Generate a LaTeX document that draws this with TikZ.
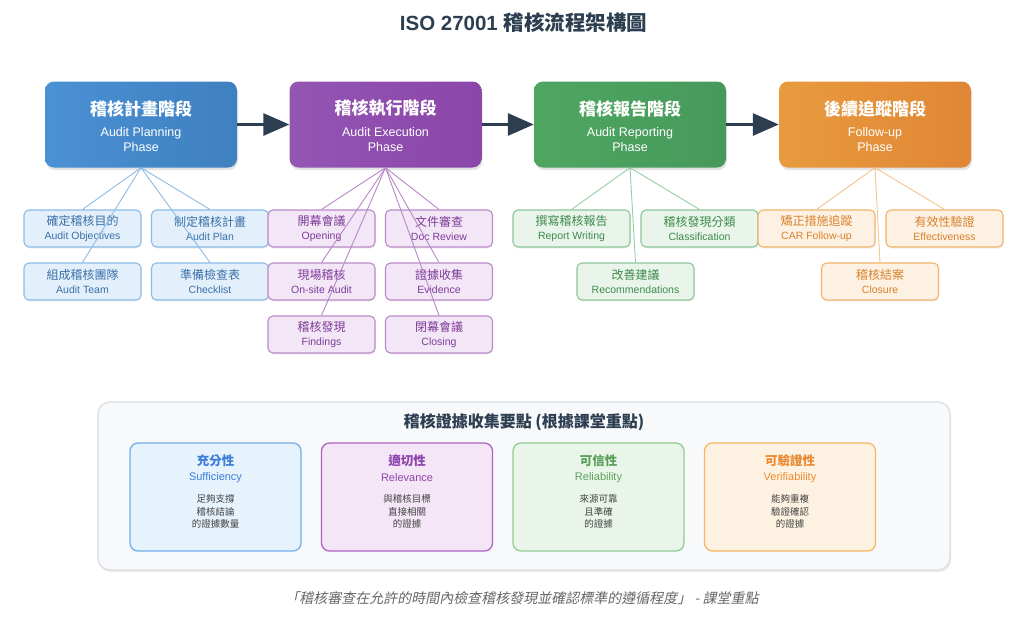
\documentclass[tikz,border=0pt]{standalone}
\usepackage{fontspec}
\setmainfont{Liberation Sans}
\newfontfamily\cjk{Noto Sans CJK TC}
\newfontfamily\cjkit{Noto Sans CJK TC}[FakeSlant=0.2]
\usetikzlibrary{arrows.meta,shadows}

\definecolor{titlec}{HTML}{2C3E50}
\definecolor{arrowc}{HTML}{2C3E50}
% phase colours
\definecolor{pbA}{HTML}{4A91D4}\definecolor{pbB}{HTML}{3F80C0}
\definecolor{ppA}{HTML}{9455B3}\definecolor{ppB}{HTML}{8A46A8}
\definecolor{pgA}{HTML}{4EA661}\definecolor{pgB}{HTML}{47995B}
\definecolor{poA}{HTML}{E89B3E}\definecolor{poB}{HTML}{E08636}
% sub box colours
\definecolor{sbF}{HTML}{E3F0FB}\definecolor{sbD}{HTML}{8BBBE8}\definecolor{sbT}{HTML}{3A6FA8}
\definecolor{spF}{HTML}{F3E6F6}\definecolor{spD}{HTML}{BB8AC8}\definecolor{spT}{HTML}{7D3C98}
\definecolor{sgF}{HTML}{E9F5EB}\definecolor{sgD}{HTML}{8CC699}\definecolor{sgT}{HTML}{3D8A4A}
\definecolor{soF}{HTML}{FDF1E3}\definecolor{soD}{HTML}{F2B46A}\definecolor{soT}{HTML}{D9822B}
% connector colours
\definecolor{lb}{HTML}{8DBBE6}\definecolor{lp}{HTML}{B888C6}
\definecolor{lg}{HTML}{98CFA2}\definecolor{lo}{HTML}{F4C488}
% cards
\definecolor{cbF}{HTML}{E6F2FC}\definecolor{cbD}{HTML}{70AEEE}\definecolor{cbT}{HTML}{3B7DD8}
\definecolor{cpF}{HTML}{F4E6F6}\definecolor{cpD}{HTML}{AE62C2}\definecolor{cpT}{HTML}{8E44AD}
\definecolor{cgF}{HTML}{EAF5EA}\definecolor{cgD}{HTML}{92CC92}\definecolor{cgT}{HTML}{5AA05A}
\definecolor{coF}{HTML}{FDF2E1}\definecolor{coD}{HTML}{F7B565}\definecolor{coT}{HTML}{EA8A30}
\definecolor{descc}{HTML}{444444}
\definecolor{panelF}{HTML}{F8F9FB}\definecolor{panelD}{HTML}{DADEE3}
\definecolor{quotec}{HTML}{666666}

\tikzset{
  phase/.style={rounded corners=9pt, minimum width=192pt, minimum height=86pt,
    inner sep=0pt, draw=none,
    drop shadow={opacity=0.22, shadow xshift=1pt, shadow yshift=-2.5pt}},
  phtitle/.style={text=white, font=\cjk\bfseries\fontsize{17}{20}\selectfont, inner sep=0pt},
  phsub/.style={text=white, font=\fontsize{12.5}{15.5}\selectfont, align=center, inner sep=0pt},
  subbox/.style={rounded corners=5pt, minimum width=117pt, minimum height=37pt,
    inner sep=0pt, line width=1.1pt, align=center,
    font=\fontsize{10.5}{14}\selectfont,
    drop shadow={opacity=0.12, shadow xshift=0.6pt, shadow yshift=-1.5pt}},
  narrow/.style={minimum width=107pt},
  conn/.style={line width=0.9pt},
  flow/.style={line width=3pt, draw=arrowc, -{Triangle[length=26pt,width=22pt]}},
  card/.style={rounded corners=8pt, minimum width=171pt, minimum height=108pt,
    inner sep=0pt, line width=1.3pt},
  cardtitle/.style={font=\cjk\bfseries\fontsize{12.5}{15}\selectfont, inner sep=0pt},
  carden/.style={font=\fontsize{11}{13}\selectfont, inner sep=0pt},
  carddesc/.style={font=\cjk\fontsize{9.5}{12.3}\selectfont, text=descc, align=center, inner sep=0pt},
}

\newcommand\mkphase[7]{% name, cx, colA, colB, zh, en1, en2
  \node[phase, left color=#3, right color=#4] (#1) at (#2,124.5) {};
  \node[phtitle] (#1t) at (#2,108.5) {#5};
  \node[phsub] (#1e) at (#2,139.5) {#6\\#7};
}
\newcommand\mksub[7][]{% [extra], name, cx, cy, prefix, zh, en
  \node[subbox, fill=#5F, draw=#5D, text=#5T, #1] (#2) at (#3,#4)
    {{\cjk\fontsize{12}{14}\selectfont #6}\\#7};
}
\newcommand\mkcard[6]{% name, cx, prefix, zh, en, desc
  \node[card, fill=#3F, draw=#3D] (#1) at (#2,497) {};
  \node[cardtitle, text=#3T] (#1t) at (#2,461) {#4};
  \node[carden, text=#3T] (#1e) at (#2,477.5) {#5};
  \node[carddesc] (#1d) at (#2,511.5) {#6};
}

\begin{document}
\begin{tikzpicture}[x=1pt,y=-1pt]
\useasboundingbox[fill=white] (0,0) rectangle (1024,622);

% title
\node[text=titlec, inner sep=0pt] (title) at (523.5,23)
  {\fontsize{20.5}{24}\selectfont\bfseries ISO 27001 {\cjk\bfseries 稽核流程架構圖}};

% phases
\mkphase{p1}{141}{pbA}{pbB}{稽核計畫階段}{Audit Planning}{Phase}
\mkphase{p2}{385.5}{ppA}{ppB}{稽核執行階段}{Audit Execution}{Phase}
\mkphase{p3}{630}{pgA}{pgB}{稽核報告階段}{Audit Reporting}{Phase}
\mkphase{p4}{875}{poA}{poB}{後續追蹤階段}{Follow-up}{Phase}

\draw[flow] (p1.east) -- (p2.west);
\draw[flow] (p2.east) -- (p3.west);
\draw[flow] (p3.east) -- (p4.west);

% planning sub boxes
\mksub{a1}{82.5}{228.5}{sb}{確定稽核目的}{Audit Objectives}
\mksub{a2}{210}{228.5}{sb}{制定稽核計畫}{Audit Plan}
\mksub{a3}{82.5}{281.5}{sb}{組成稽核團隊}{Audit Team}
\mksub{a4}{210}{281.5}{sb}{準備檢查表}{Checklist}
% execution sub boxes
\mksub[narrow]{b1}{321.5}{228.5}{sp}{開幕會議}{Opening}
\mksub[narrow]{b2}{439}{228.5}{sp}{文件審查}{Doc Review}
\mksub[narrow]{b3}{321.5}{281.5}{sp}{現場稽核}{On-site Audit}
\mksub[narrow]{b4}{439}{281.5}{sp}{證據收集}{Evidence}
\mksub[narrow]{b5}{321.5}{334.5}{sp}{稽核發現}{Findings}
\mksub[narrow]{b6}{439}{334.5}{sp}{閉幕會議}{Closing}
% reporting sub boxes
\mksub{c1}{571.5}{228.5}{sg}{撰寫稽核報告}{Report Writing}
\mksub{c2}{699.5}{228.5}{sg}{稽核發現分類}{Classification}
\mksub{c3}{635.5}{281.5}{sg}{改善建議}{Recommendations}
% follow-up sub boxes
\mksub{d1}{816.5}{228.5}{so}{矯正措施追蹤}{CAR Follow-up}
\mksub{d2}{944.5}{228.5}{so}{有效性驗證}{Effectiveness}
\mksub{d3}{880}{281.5}{so}{稽核結案}{Closure}

% connectors
\foreach \s in {a1,a2,a3,a4} \draw[conn, draw=lb] (p1.south) -- (\s.north);
\foreach \s in {b1,b2,b3,b4,b5,b6} \draw[conn, draw=lp] (p2.south) -- (\s.north);
\foreach \s in {c1,c2,c3} \draw[conn, draw=lg] (p3.south) -- (\s.north);
\foreach \s in {d1,d2,d3} \draw[conn, draw=lo] (p4.south) -- (\s.north);

% evidence panel
\node[rounded corners=12pt, minimum width=852pt, minimum height=168pt, inner sep=0pt,
  fill=panelF, draw=panelD, line width=1.3pt,
  drop shadow={opacity=0.15, shadow xshift=1pt, shadow yshift=-2pt}] (panel) at (524,486) {};
\node[text=titlec, inner sep=0pt, font=\cjk\bfseries\fontsize{16}{19}\selectfont]
  (paneltitle) at (524,422.5) {稽核證據收集要點 (根據課堂重點)};

\mkcard{k1}{215.5}{cb}{充分性}{Sufficiency}{足夠支撐\\稽核結論\\的證據數量}
\mkcard{k2}{407}{cp}{適切性}{Relevance}{與稽核目標\\直接相關\\的證據}
\mkcard{k3}{598.5}{cg}{可信性}{Reliability}{來源可靠\\且準確\\的證據}
\mkcard{k4}{790}{co}{可驗證性}{Verifiability}{能夠重複\\驗證確認\\的證據}

% quote
\node[text=quotec, inner sep=0pt, font=\cjkit\fontsize{14}{16}\selectfont] (quote) at (522,598)
  {「稽核審查在允許的時間內檢查稽核發現並確認標準的遵循程度」 - 課堂重點};
\end{tikzpicture}
\end{document}
